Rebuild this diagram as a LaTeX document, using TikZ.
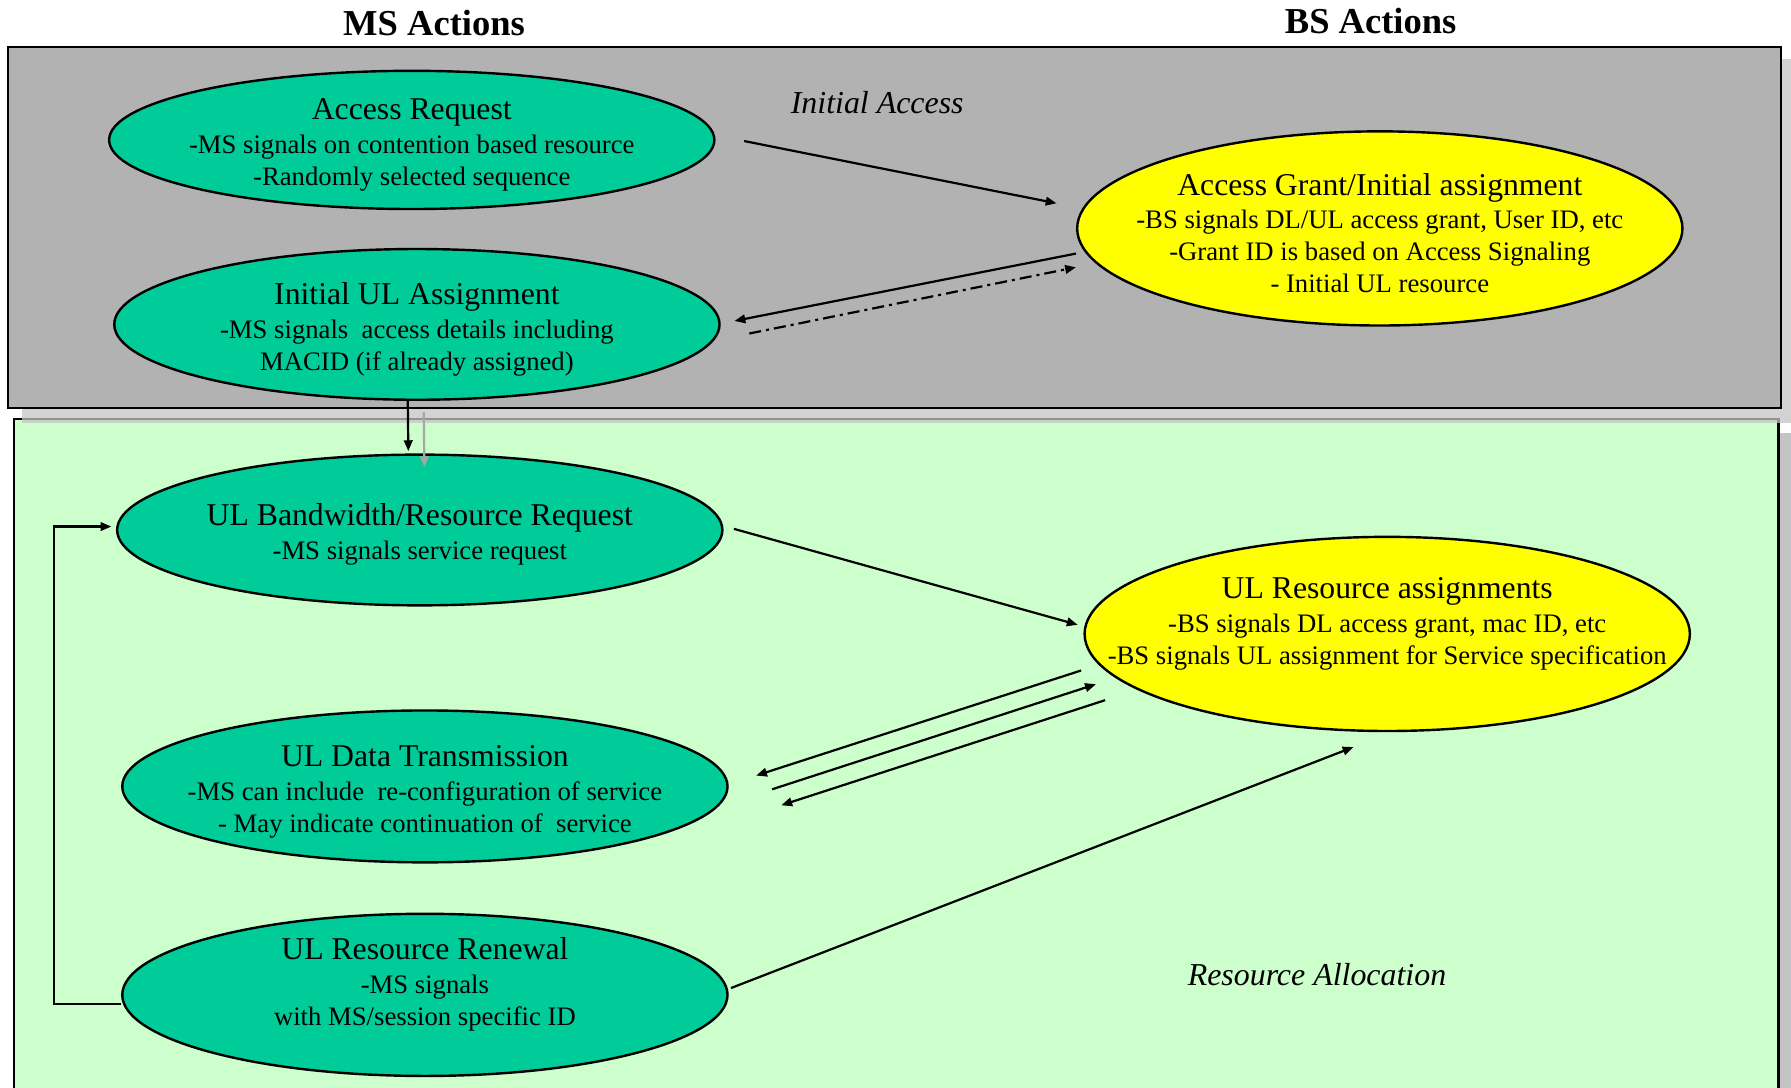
\documentclass[tikz,border=0pt]{standalone}
\usepackage{fontspec}
\setmainfont{Liberation Serif}
\usepackage{xcolor}
\usetikzlibrary{shapes.geometric, arrows.meta, calc, positioning}

\definecolor{msgreen}{HTML}{00CC99}
\definecolor{boxgray}{HTML}{B2B2B2}
\definecolor{shadegray}{HTML}{C4C4C4}
\definecolor{palegreen}{HTML}{CCFFCC}
\definecolor{bsyellow}{HTML}{FFFF00}

\newcommand{\elltitle}[1]{{\fontsize{15.8}{15.9}\selectfont #1}}

\tikzset{
  ell/.style={ellipse, draw, line width=1.2pt, inner sep=0pt},
  greenell/.style={ell, fill=msgreen, minimum width=10.6cm},
  yellowell/.style={ell, fill=bsyellow, minimum width=10.6cm},
  txt/.style={align=center, inner sep=0pt, font=\fontsize{13.3}{15.9}\selectfont},
  hdr/.style={font=\bfseries\fontsize{18.2}{20}\selectfont},
  sect/.style={font=\itshape\fontsize{15.9}{18}\selectfont},
  arr/.style={-{Triangle[length=1.9mm,width=1.5mm]}, line width=1.1pt},
}

\begin{document}
\begin{tikzpicture}[x=0.02cm, y=-0.02cm]
\useasboundingbox (0,0) rectangle (1568,952);
\clip (0,0) rectangle (1568,952);

% boxes with shadows
\fill[shadegray] (24,379) rectangle (1575,970);
\fill[white] (1557,360) rectangle (1575,379);
\draw[line width=1.2pt, fill=palegreen] (12,367) rectangle (1557,965);
\fill[shadegray, opacity=0.75] (19,52) rectangle (1572,370);
\draw[line width=1.2pt, fill=boxgray] (7,41) rectangle (1559,357);

% headings
\node[hdr] (mshead) at (380,20) {MS Actions};
\node[hdr] (bshead) at (1200,18) {BS Actions};
\node[sect] (initacc) at (768,90) {Initial Access};
\node[sect] (resalloc) at (1153,853) {Resource Allocation};

% MS side
\node[greenell, minimum height=2.42cm,
  label={[txt, yshift=-0.09cm]center:{\elltitle{Access Request}\\[1pt]-MS signals on contention based resource\\-Randomly selected sequence}}]
  (req) at (360.5,122.5) {};
\node[greenell, minimum height=2.64cm,
  label={[txt, yshift=-0.09cm]center:{\elltitle{Initial UL Assignment}\\[1pt]-MS signals~ access details including\\MACID (if already assigned)}}]
  (init) at (365,284) {};
\node[greenell, minimum height=2.64cm,
  label={[txt, yshift=-0.07cm]center:{\elltitle{UL Bandwidth/Resource Request}\\[1pt]-MS signals service request}}]
  (bw) at (367.5,464) {};
\node[greenell, minimum height=2.66cm,
  label={[txt, yshift=-0.09cm]center:{\elltitle{UL Data Transmission}\\[1pt]-MS can include~ re-configuration of service\\- May indicate continuation of~ service}}]
  (data) at (372,688.5) {};
\node[greenell, minimum height=2.84cm,
  label={[txt, yshift=0.18cm]center:{\elltitle{UL Resource Renewal}\\[1pt]-MS signals\\with MS/session specific ID}}]
  (renew) at (372,871) {};

% BS side
\node[yellowell, minimum height=3.4cm,
  label={[txt, yshift=-0.08cm]center:{\elltitle{Access Grant/Initial assignment}\\[1pt]-BS signals DL/UL access grant, User ID, etc\\-Grant ID is based on Access Signaling\\- Initial UL resource}}]
  (grant) at (1208,200) {};
\node[yellowell, minimum height=3.4cm,
  label={[txt, yshift=0.18cm]center:{\elltitle{UL Resource assignments}\\[1pt]-BS signals DL access grant, mac ID, etc\\-BS signals UL assignment for Service specification}}]
  (ra) at (1214.5,555) {};

% initial access
\draw[arr] ($(req.east)+(25,1)$) -- ($(grant.west)+(-17,-22)$);
\draw[arr] ($(grant.west)+(0,22)$) -- ($(init.east)+(12,-3)$);
\draw[arr, dash pattern=on 6pt off 2.5pt on 1.5pt off 2.5pt] ($(init.east)+(25,8)$) -- ($(grant.west)+(0,34)$);
\draw[arr] ($(init.south)+(-8,0)$) -- ($(bw.north)+(-10,-2)$);
\draw[arr, gray!70] ($(init.south)+(6,10)$) -- ($(bw.north)+(4,12)$);

% resource allocation
\draw[arr] ($(bw.east)+(9,-1)$) -- ($(ra.west)+(-5,-8)$);
\draw[arr] ($(ra.west)+(-2,32)$) -- ($(data.east)+(24,-9.5)$);
\draw[arr] ($(data.east)+(38,2.5)$) -- ($(ra.west)+(11,44)$);
\draw[arr] ($(ra.west)+(19,58)$) -- ($(data.east)+(46,16.5)$);
\draw[arr] ($(renew.east)+(2,-6)$) -- ($(ra.south)+(-29.5,13)$);
\draw[arr] ($(renew.west)+(0,8)$) -| ($(bw.west)+(-54,-3)$) -- ($(bw.west)+(-4,-3)$);
\end{tikzpicture}
\end{document}
